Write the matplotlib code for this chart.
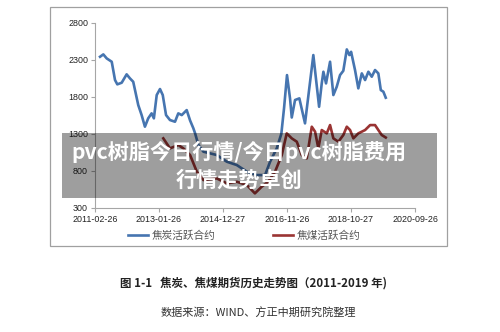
import matplotlib
matplotlib.use("Agg")
import matplotlib.pyplot as plt
import pandas as pd
from matplotlib.patches import Rectangle

plt.rcParams['font.family'] = ['Noto Sans CJK SC', 'DejaVu Sans']

# coke (焦炭) active contract
coke_dates = ["2011-04-22", "2011-05-28", "2011-07-04", "2011-08-28", "2011-10-03",
              "2011-10-28", "2011-12-15", "2012-02-07", "2012-03-14", "2012-04-19",
              "2012-06-13", "2012-07-20", "2012-08-25", "2012-09-30", "2012-11-06",
              "2012-12-01", "2013-01-01", "2013-02-06", "2013-03-08", "2013-04-13",
              "2013-05-26", "2013-07-20", "2013-08-25", "2013-10-02", "2013-11-25",
              "2014-01-01", "2014-02-06", "2014-02-25", "2014-04-02", "2014-05-27",
              "2014-10-20", "2015-02-07", "2015-05-27", "2015-09-14", "2016-01-01",
              "2016-03-31", "2016-05-25", "2016-08-06", "2016-09-25", "2016-10-25",
              "2016-11-26", "2016-12-29", "2017-01-17", "2017-02-22", "2017-04-10",
              "2017-06-11", "2017-09-10", "2017-11-12", "2017-12-11", "2017-12-29",
              "2018-01-27", "2018-03-12", "2018-04-17", "2018-05-24", "2018-06-29",
              "2018-08-04", "2018-09-11", "2018-10-09", "2018-10-28", "2018-12-10",
              "2019-01-15", "2019-02-22", "2019-03-30", "2019-05-05", "2019-06-11",
              "2019-07-17", "2019-08-22", "2019-09-18", "2019-10-16", "2019-11-11"]
coke_values = [2339, 2371, 2317, 2272, 2025, 1967, 1989, 2102, 2048, 2002,
               1688, 1553, 1396, 1509, 1576, 1509, 1823, 1904, 1823, 1553,
               1486, 1463, 1576, 1553, 1620, 1480, 1374, 1306, 1149, 1059,
               1014, 924, 879, 789, 744, 744, 924, 1104, 1300, 1650,
               2092, 1778, 1520, 1756, 1778, 1441, 2362, 1665, 1980, 2137,
               1980, 2272, 1823, 1935, 2092, 2150, 2438, 2362, 2406, 2160,
               1913, 2115, 2025, 2137, 2070, 2160, 2115, 1890, 1868, 1787]

# coking coal (焦煤) active contract
coal_dates = ["2013-03-14", "2013-05-26", "2013-08-25", "2013-10-19", "2014-01-01",
              "2014-03-16", "2014-05-27", "2014-10-20", "2015-02-07", "2015-05-27",
              "2015-09-14", "2015-12-11", "2016-02-23", "2016-05-05", "2016-07-18",
              "2016-09-30", "2016-11-23", "2017-01-17", "2017-03-13", "2017-05-06",
              "2017-06-30", "2017-08-24", "2017-09-29", "2017-11-04", "2017-12-11",
              "2018-02-04", "2018-03-12", "2018-04-17", "2018-06-11", "2018-08-04",
              "2018-09-11", "2018-10-17", "2018-11-22", "2019-01-15", "2019-03-30",
              "2019-05-24", "2019-07-17", "2019-08-22", "2019-09-28", "2019-11-11"]
coal_values = [1239, 1104, 1149, 1104, 1014, 789, 677, 699, 632, 654,
               610, 497, 587, 654, 789, 1014, 1306, 1239, 1194, 1014,
               969, 1396, 1329, 1104, 1351, 1306, 1418, 1239, 1194, 1284,
               1396, 1351, 1239, 1306, 1351, 1418, 1418, 1351, 1284, 1250]

tick_dates = ["2011-02-26", "2013-01-26", "2014-12-27", "2016-11-26", "2018-10-27", "2020-09-26"]
y_ticks = [300, 800, 1300, 1800, 2300, 2800]

fig = plt.figure(figsize=(5, 3.32), dpi=100)
ax = fig.add_axes([0.19, 0.3735, 0.64, 0.5585])

ax.plot(pd.to_datetime(coke_dates), coke_values, color='#4675b0', lw=1.9,
        label='焦炭活跃合约', solid_joinstyle='round')
ax.plot(pd.to_datetime(coal_dates), coal_values, color='#9a3433', lw=1.9,
        label='焦煤活跃合约', solid_joinstyle='round')

ticks = pd.to_datetime(tick_dates)
ax.set_xlim(ticks[0], ticks[-1])
ax.set_xticks(ticks)
ax.set_xticklabels(tick_dates)
ax.set_ylim(300, 2800)
ax.set_yticks(y_ticks)

for s in ['top', 'right']:
    ax.spines[s].set_visible(False)
for s in ['left', 'bottom']:
    ax.spines[s].set_color('#a6a6a6')
    ax.spines[s].set_linewidth(0.8)
ax.tick_params(axis='both', colors='#a6a6a6', length=3, width=0.8, pad=2)
for lab in ax.get_xticklabels() + ax.get_yticklabels():
    lab.set_color('#222222')
    lab.set_fontsize(6.4)
    lab.set_family(['Liberation Sans', 'DejaVu Sans'])

leg = ax.legend(loc='upper center', bbox_to_anchor=(0.465, -0.07), ncol=2, frameon=False,
                fontsize=7.7, handlelength=1.9, handletextpad=0.3, columnspacing=5.4)
for t in leg.get_texts():
    t.set_color('#555555')

# chart border
fig.patches.append(Rectangle((50 / 500, 1 - 246 / 332), 397 / 500, 239 / 332,
                             transform=fig.transFigure, fill=False,
                             edgecolor='#a0a0a0', lw=0.9))

# caption and source
fig.text(0.508, 1 - 283 / 332, '图 1-1   焦炭、焦煤期货历史走势图（2011-2019 年)',
         ha='center', va='center', fontsize=8.3, fontweight='bold', color='#222222')
fig.text(0.517, 1 - 313 / 332, '数据来源：WIND、方正中期研究院整理',
         ha='center', va='center', fontsize=8, color='#333333')

# overlay banner
fig.patches.append(Rectangle((62 / 500, 1 - 198 / 332), 375 / 500, 65 / 332,
                             transform=fig.transFigure, facecolor='black',
                             alpha=0.38, edgecolor='none', zorder=5))
fig.text(239 / 500, 1 - 152 / 332, 'pvc树脂今日行情/今日pvc树脂费用',
         ha='center', va='center', fontsize=15.2, fontweight='bold', color='white', zorder=6)
fig.text(239 / 500, 1 - 180 / 332, '行情走势卓创',
         ha='center', va='center', fontsize=15.2, fontweight='bold', color='white', zorder=6)

fig.savefig('out.png', dpi=100)
